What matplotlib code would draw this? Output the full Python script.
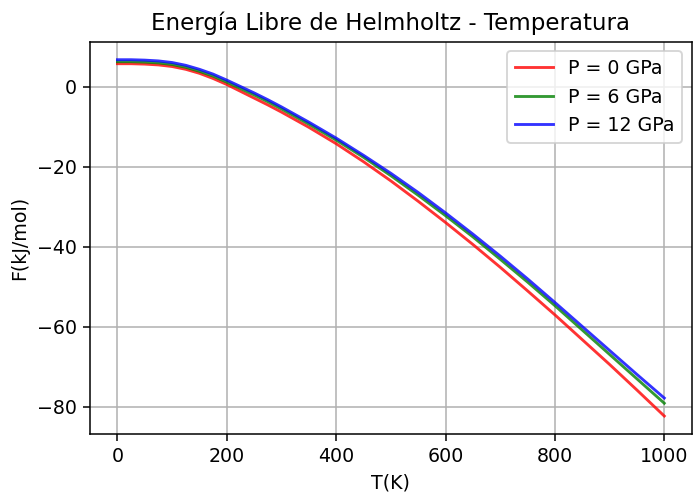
import numpy as np
import matplotlib.pyplot as plt

T = [0, 25, 50, 75, 100, 125, 150, 175, 200, 225, 250, 275, 300, 350, 400, 450, 500,
     550, 600, 650, 700, 750, 800, 850, 900, 950, 1000]

F_0 = [5.8, 5.8, 5.7, 5.5, 5.1, 4.4, 3.4, 2.1, 0.6, -1.1, -2.8, -4.5, -6.3, -10.1, -14.2, -18.7, -23.5,
       -28.6, -33.9, -39.4, -45.1, -51.0, -57.0, -63.2, -69.4, -75.8, -82.3]
F_6 = [6.3, 6.3, 6.2, 6.0, 5.6, 4.9, 3.9, 2.7, 1.2, -0.4, -2.0, -3.7, -5.5, -9.3, -13.3, -17.6, -22.2,
       -27.1, -32.2, -37.5, -43.1, -48.8, -54.7, -60.8, -66.9, -73.0, -79.1]
F_12 = [6.8, 6.8, 6.7, 6.5, 6.1, 5.4, 4.4, 3.2, 1.7, 0.1, -1.5, -3.2, -5.0, -8.8, -12.8, -17.1, -21.6,
        -26.4, -31.5, -36.8, -42.3, -48.0, -53.9, -59.9, -65.9, -71.9, -77.8]

fig = plt.figure(figsize=(693 / 137, 493 / 137), dpi=137)
plt.plot(T, F_0, color="red", alpha=0.8, label="P = 0 GPa")
plt.plot(T, F_6, color="green", alpha=0.8, label="P = 6 GPa")
plt.plot(T, F_12, color="blue", alpha=0.8, label="P = 12 GPa")
plt.title("Energía Libre de Helmholtz - Temperatura")
plt.xlabel("T(K)")
plt.ylabel("F(kJ/mol)")
plt.grid(True)
plt.legend()
plt.subplots_adjust(left=0.13, right=0.998, top=0.915, bottom=0.12)
plt.savefig("out.png", dpi=137)
